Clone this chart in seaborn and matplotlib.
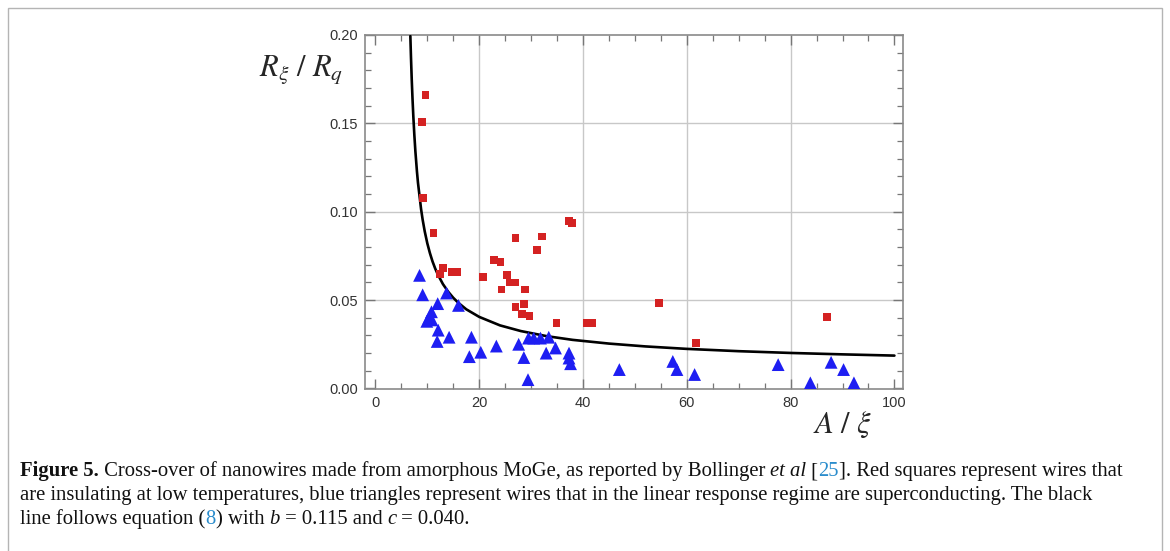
import matplotlib
matplotlib.use("Agg")
import matplotlib.pyplot as plt
from matplotlib.ticker import MultipleLocator
from matplotlib.patches import Rectangle
import pandas as pd
import seaborn as sns

# red squares: wires insulating at low T
ins_x = [9.65, 9.0, 9.2, 11.2, 13.1, 12.5, 14.8, 15.8, 20.7, 22.8, 24.1, 25.4, 26.0, 27.0,
         24.3, 28.9, 27.0, 32.1, 31.2, 37.3, 37.8, 27.0, 28.7, 28.3, 29.7, 34.9, 40.7, 41.8,
         54.6, 61.8, 87.0]
ins_y = [0.166, 0.151, 0.108, 0.088, 0.068, 0.065, 0.066, 0.066, 0.063, 0.0725, 0.0715, 0.064,
         0.060, 0.060, 0.056, 0.056, 0.085, 0.086, 0.0785, 0.0946, 0.0936, 0.046, 0.048, 0.042,
         0.041, 0.037, 0.037, 0.037, 0.0485, 0.0257, 0.0406]

# blue triangles: superconducting wires
sc_x = [8.5, 9.1, 13.7, 12.0, 16.0, 10.8, 10.3, 9.9, 10.9, 12.1, 14.2, 11.9, 18.5, 18.1, 20.3,
        23.3, 27.6, 28.6, 29.4, 29.5, 30.5, 31.8, 33.4, 32.9, 34.7, 37.3, 37.3, 37.6, 47.0,
        57.3, 58.1, 61.5, 77.6, 83.8, 87.8, 90.2, 92.2]
sc_y = [0.064, 0.053, 0.054, 0.048, 0.047, 0.0434, 0.040, 0.038, 0.0388, 0.033, 0.029, 0.0266,
        0.029, 0.018, 0.0205, 0.024, 0.025, 0.0175, 0.005, 0.0285, 0.0285, 0.0285, 0.029, 0.020,
        0.0229, 0.020, 0.0172, 0.014, 0.0107, 0.0153, 0.0107, 0.0079, 0.0135, 0.0032, 0.0148,
        0.0107, 0.0032]

# black line, equation (8)
fit_x = [6.73, 6.85, 7.0, 7.15, 7.3, 7.5, 7.7, 8.0, 8.2, 8.8, 9.1, 9.5, 10.0, 10.5, 11.0,
         11.5, 12.0, 13.0, 14.0, 15.0, 16.0, 17.5, 20.0, 24.0, 28.0, 33.0, 38.0, 45.0, 52.0,
         60.0, 70.0, 80.0, 90.0, 100.0]
fit_y = [0.1994, 0.1875, 0.1746, 0.1637, 0.1542, 0.1434, 0.1342, 0.1228, 0.1164, 0.1014,
         0.0955, 0.0889, 0.0821, 0.0766, 0.0719, 0.0680, 0.0646, 0.0591, 0.0548, 0.0513,
         0.0484, 0.0448, 0.0405, 0.0357, 0.0325, 0.0296, 0.0275, 0.0254, 0.0238, 0.0224,
         0.0211, 0.0201, 0.0193, 0.0186]

x_ticks = [0, 20, 40, 60, 80, 100]
y_ticks = [0.00, 0.05, 0.10, 0.15, 0.20]
y_tick_labels = ["0.00", "0.05", "0.10", "0.15", "0.20"]
grid_x = [20, 40, 60, 80]
grid_y = [0.05, 0.10, 0.15]

caption = [
    [("Figure 5.", "b"), (" Cross-over of nanowires made from amorphous MoGe, as reported by Bollinger ", "r"),
     ("et al", "i"), (" [", "r"), ("25", "link"), ("]. Red squares represent wires that", "r")],
    [("are insulating at low temperatures, blue triangles represent wires that in the linear "
      "response regime are superconducting. The black", "r")],
    [("line follows equation (", "r"), ("8", "link"), (") with ", "r"), ("b", "i"),
     (" = 0.115 and ", "r"), ("c", "i"), (" = 0.040.", "r")],
]

sns.set_style("ticks")
plt.rcParams["font.family"] = ["Liberation Sans", "DejaVu Sans"]
plt.rcParams["mathtext.fontset"] = "stix"

fig = plt.figure(figsize=(11.7, 5.51), dpi=100)
ax = fig.add_axes([0.312, 0.294, 0.460, 0.6425])

for gx in grid_x:
    ax.axvline(gx, color="#c8c8c8", lw=1.0, zorder=0)
for gy in grid_y:
    ax.axhline(gy, color="#c8c8c8", lw=1.0, zorder=0)

ins = pd.DataFrame({"x": ins_x, "y": ins_y})
sc = pd.DataFrame({"x": sc_x, "y": sc_y})

sns.lineplot(x=fit_x, y=fit_y, sort=False, color="black", lw=1.9, ax=ax, zorder=3)
sns.scatterplot(data=ins, x="x", y="y", marker="s", s=32, color="#d42222",
                edgecolor="none", ax=ax, zorder=4)
sns.scatterplot(data=sc, x="x", y="y", marker="^", s=85, color="#1e1ef2",
                edgecolor="none", ax=ax, zorder=4)

ax.set_xlim(-2.0, 101.7)
ax.set_ylim(-0.0003, 0.199)
ax.set_xticks(x_ticks)
ax.set_yticks(y_ticks)
ax.set_yticklabels(y_tick_labels)
ax.xaxis.set_minor_locator(MultipleLocator(5))
ax.yaxis.set_minor_locator(MultipleLocator(0.01))
ax.tick_params(which="both", direction="in", top=True, right=True, color="#777777",
               labelcolor="#333333", labelsize=10.5, pad=5)
ax.tick_params(which="major", length=7, width=1.0)
ax.tick_params(which="minor", length=4, width=0.9)
ax.set_xlabel("")
ax.set_ylabel("")
for sp in ax.spines.values():
    sp.set_color("#8a8a8a")
    sp.set_linewidth(1.2)

fig.text(0.257, 0.873, r"$R_\xi\ /\ R_q$", fontsize=22, ha="center", va="center")
fig.text(0.72, 0.229, r"$A\ /\ \xi$", fontsize=22, ha="center", va="center")

fig.patches.append(Rectangle((0.0065, -0.1), 0.987, 1.0855, transform=fig.transFigure,
                             fill=False, edgecolor="#b4b4b4", lw=1.0))

# caption with mixed styles, laid out piece by piece
renderer = fig.canvas.get_renderer()
styles = {
    "r": dict(family="Liberation Serif"),
    "b": dict(family="Liberation Serif", weight="bold"),
    "i": dict(family="Liberation Serif", style="italic"),
    "link": dict(family="Liberation Serif", color="#2a8ccc"),
}


def seg_width(s, size, **kw):
    t = fig.text(0, 0, s + "|", fontsize=size, **kw)
    w1 = t.get_window_extent(renderer).width
    t.remove()
    t = fig.text(0, 0, "|", fontsize=size, **kw)
    w2 = t.get_window_extent(renderer).width
    t.remove()
    return w1 - w2


ref = 10.0
w_line1 = sum(seg_width(s, ref, **styles[k]) for s, k in caption[0])
size = ref * 1103.0 / w_line1

W = fig.get_figwidth() * fig.dpi
for line, yb in zip(caption, [476, 500, 524]):
    xpos = 20.0
    for s, k in line:
        fig.text(xpos / W, 1 - yb / 551.0, s, fontsize=size, va="baseline", ha="left",
                 color=styles[k].get("color", "#111111"),
                 **{a: b for a, b in styles[k].items() if a != "color"})
        xpos += seg_width(s, size, **styles[k])

fig.savefig("out.png", dpi=100)
